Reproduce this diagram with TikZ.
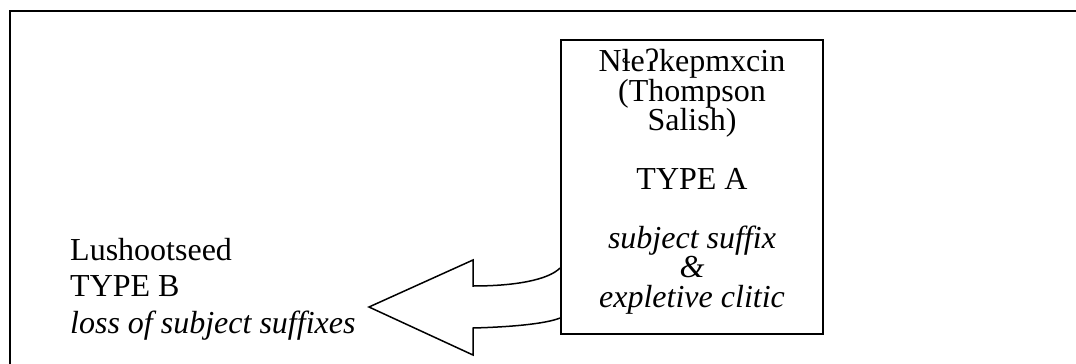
\documentclass[tikz,border=0pt]{standalone}
\usepackage{fontspec}
\setmainfont{Liberation Serif}
\begin{document}
\lineskiplimit=-100pt
\begin{tikzpicture}[x=1pt,y=-1pt,
  frame/.style={line width=2pt},
  boxstyle/.style={draw,line width=1.8pt,minimum width=262pt,minimum height=294pt,inner sep=0pt},
  boxtext/.style={align=center,font=\fontsize{32}{29.4}\selectfont,inner sep=0pt},
  lefttext/.style={align=left,font=\fontsize{32}{36.5}\selectfont,inner sep=0pt},
  blockarrow/.style={line width=1.5pt,line join=miter}]
\useasboundingbox (0,0) rectangle (1076,364);
\coordinate (ftl) at (10,11);
\coordinate (ftr) at (1076,11);
\coordinate (fbl) at (10,364);
\draw[frame] (ftr) -- (ftl) -- (fbl);
\node[boxstyle] (box) at (692,187) {};
\node[boxtext,anchor=base] (boxtxt) at (692,307) {Nɬeʔkepmxcin\\(Thompson\\Salish)\\[29.4pt]TYPE A\\[29.4pt]\textit{subject suffix}\\\textit{\&}\\\textit{expletive clitic}};
\node[lefttext,anchor=base west] (left) at (70,333) {Lushootseed\\TYPE B\\\textit{loss of subject suffixes}};
\coordinate (atop) at (box.west |- 0,268);
\coordinate (abot) at (box.west |- 0,318);
\draw[blockarrow] (atop) .. controls (548,280) and (515,286) .. (473,286) -- (473,260) -- (369,307) -- (473,355) -- (473,328) .. controls (510,327) and (545,324) .. (abot);
\end{tikzpicture}
\end{document}
